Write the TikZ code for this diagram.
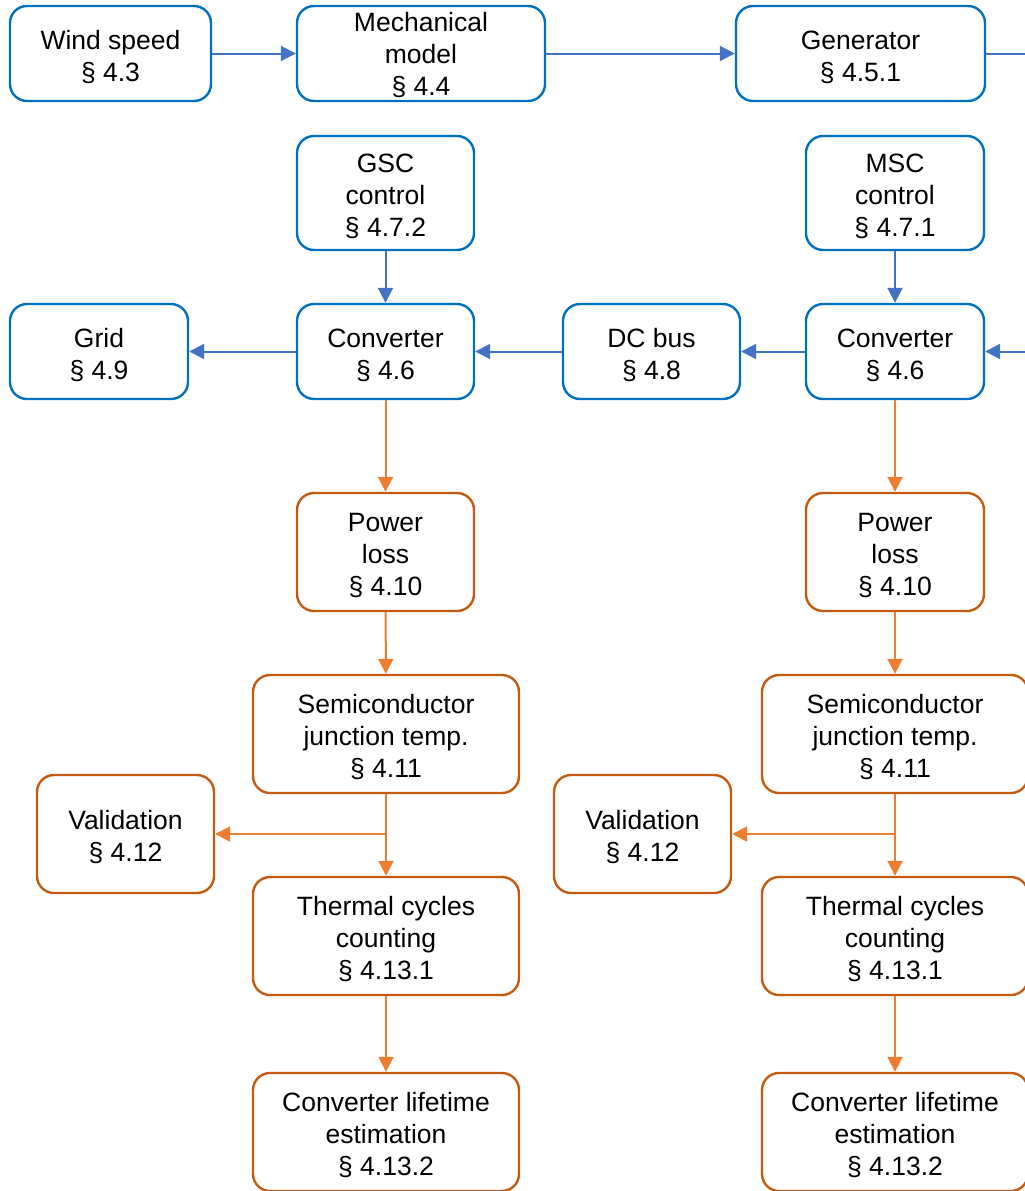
\documentclass[tikz,border=0pt]{standalone}
\usepackage{fontspec}
\setmainfont{Liberation Sans}
\usetikzlibrary{arrows.meta,calc}

\definecolor{boxblue}{HTML}{0070C0}
\definecolor{lineblue}{HTML}{4472C4}
\definecolor{boxorange}{HTML}{C55A11}
\definecolor{lineorange}{HTML}{ED7D31}

% centred block of lines; the optional lift sets how low it sits in its box,
% and the reported size is trimmed so the box keeps its minimum height
\newcommand\blines[2][11pt]{\raisebox{0pt}[\dimexpr\height+#1-12pt\relax][\dimexpr\depth-12pt\relax]{\begin{tabular}{@{}c@{}}#2\end{tabular}}}

\tikzset{
  block/.style={rectangle, rounded corners=17pt, line width=2.4pt, fill=white,
    inner sep=0pt, font=\fontsize{26.5}{32}\selectfont},
  bluebox/.style={block, draw=boxblue},
  orangebox/.style={block, draw=boxorange},
  blueflow/.style={draw=lineblue, line width=2pt,
    -{Triangle[length=15pt,width=15pt]}},
  orangeflow/.style={draw=lineorange, line width=2pt,
    -{Triangle[length=15pt,width=15pt]}},
}

\begin{document}
\begin{tikzpicture}[x=1pt,y=-1pt]
\useasboundingbox (0,0) rectangle (1025,1191);
\clip (0,0) rectangle (1025,1191);

% drive train and electrical chain
\node[bluebox, minimum width=201pt, minimum height=95pt] (wind) at (110.5,53.5) {\blines{Wind speed\\§ 4.3}};
\node[bluebox, minimum width=248pt, minimum height=95pt] (mech) at (421,53.5) {\blines[7pt]{Mechanical\\model\\§ 4.4}};
\node[bluebox, minimum width=249pt, minimum height=95pt] (gen) at (860.5,53.5) {\blines{Generator\\§ 4.5.1}};

\node[bluebox, minimum width=177pt, minimum height=114pt] (gscc) at (385.5,193) {\blines{GSC\\control\\§ 4.7.2}};
\node[bluebox, minimum width=178pt, minimum height=114pt] (mscc) at (895,193) {\blines{MSC\\control\\§ 4.7.1}};

\node[bluebox, minimum width=178pt, minimum height=95pt] (grid) at (99,351.5) {\blines{Grid\\§ 4.9}};
\node[bluebox, minimum width=177pt, minimum height=95pt] (conv1) at (385.5,351.5) {\blines{Converter\\§ 4.6}};
\node[bluebox, minimum width=177pt, minimum height=95pt] (dc) at (651.5,351.5) {\blines{DC bus\\§ 4.8}};
\node[bluebox, minimum width=178pt, minimum height=95pt] (conv2) at (895,351.5) {\blines{Converter\\§ 4.6}};

% thermal and lifetime chain, grid-side converter
\node[orangebox, minimum width=177pt, minimum height=118pt] (loss1) at (385.5,552) {\blines{Power\\loss\\§ 4.10}};
\node[orangebox, minimum width=266pt, minimum height=118pt] (semi1) at (386,734) {\blines{Semiconductor\\junction temp.\\§ 4.11}};
\node[orangebox, minimum width=177pt, minimum height=118pt] (valid1) at (125.5,834) {\blines{Validation\\§ 4.12}};
\node[orangebox, minimum width=266pt, minimum height=118pt] (therm1) at (386,936) {\blines{Thermal cycles\\counting\\§ 4.13.1}};
\node[orangebox, minimum width=266pt, minimum height=118pt] (life1) at (386,1132) {\blines{Converter lifetime\\estimation\\§ 4.13.2}};

% thermal and lifetime chain, machine-side converter
\node[orangebox, minimum width=178pt, minimum height=118pt] (loss2) at (895,552) {\blines{Power\\loss\\§ 4.10}};
\node[orangebox, minimum width=266pt, minimum height=118pt] (semi2) at (895,734) {\blines{Semiconductor\\junction temp.\\§ 4.11}};
\node[orangebox, minimum width=177pt, minimum height=118pt] (valid2) at (642.5,834) {\blines{Validation\\§ 4.12}};
\node[orangebox, minimum width=266pt, minimum height=118pt] (therm2) at (895,936) {\blines{Thermal cycles\\counting\\§ 4.13.1}};
\node[orangebox, minimum width=266pt, minimum height=118pt] (life2) at (895,1132) {\blines{Converter lifetime\\estimation\\§ 4.13.2}};

% power flow
\draw[blueflow] (wind) -- (mech);
\draw[blueflow] (mech) -- (gen);
\coordinate (genout) at (1045,53.5);
\draw[blueflow] (gen.east) -- (genout) |- (conv2.east);
\draw[blueflow] (gscc) -- (conv1);
\draw[blueflow] (mscc) -- (conv2);
\draw[blueflow] (conv2) -- (dc);
\draw[blueflow] (dc) -- (conv1);
\draw[blueflow] (conv1) -- (grid);

% loss and lifetime flow
\coordinate (br1) at (semi1.south |- valid1.east);
\coordinate (br2) at (semi2.south |- valid2.east);
\draw[orangeflow] (conv1) -- (loss1);
\draw[orangeflow] (loss1) -- (semi1);
\draw[orangeflow] (semi1) -- (therm1);
\draw[orangeflow] (br1) -- (valid1.east);
\draw[orangeflow] (therm1) -- (life1);

\draw[orangeflow] (conv2) -- (loss2);
\draw[orangeflow] (loss2) -- (semi2);
\draw[orangeflow] (semi2) -- (therm2);
\draw[orangeflow] (br2) -- (valid2.east);
\draw[orangeflow] (therm2) -- (life2);
\end{tikzpicture}
\end{document}
